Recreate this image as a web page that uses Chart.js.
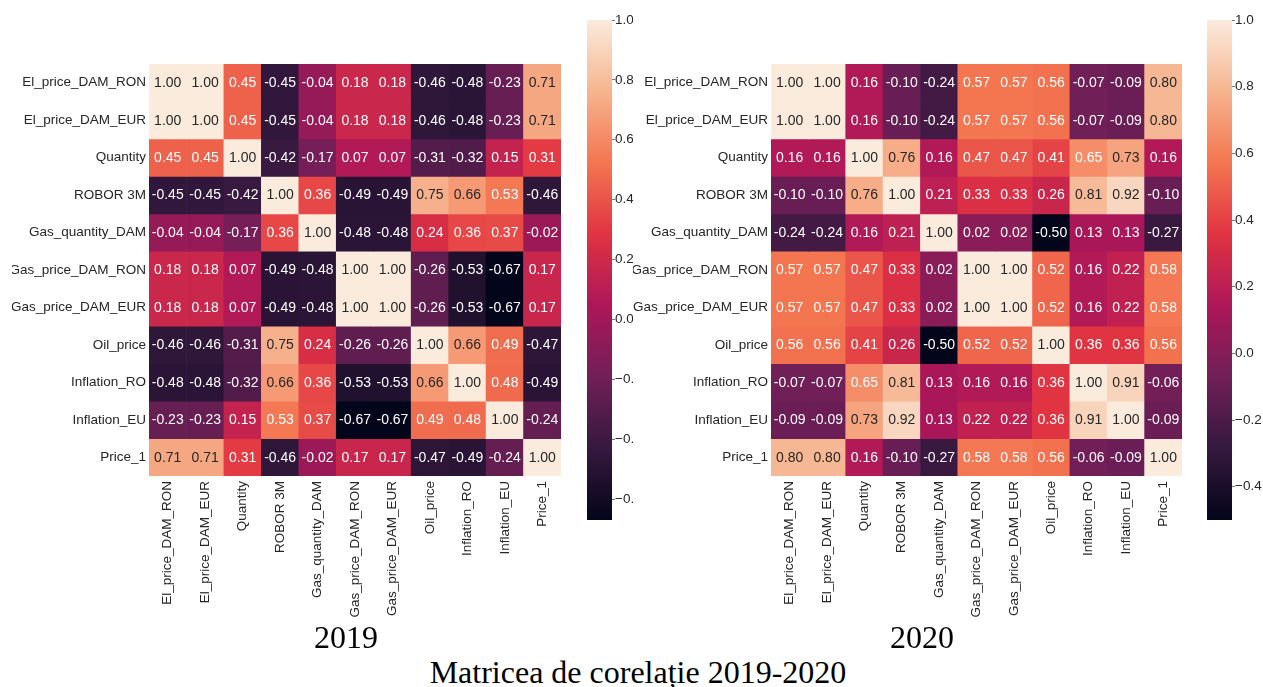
<!DOCTYPE html>
<html>
<head>
<meta charset="utf-8">
<script src="https://cdn.jsdelivr.net/npm/chart.js@4/dist/chart.umd.min.js"></script>
<style>
  html, body { margin: 0; padding: 0; background: #fff; }
  body { position: relative; width: 1263px; height: 687px; overflow: hidden; }
  canvas { position: absolute; top: 0; }
  #panelRight { position: absolute; left: 633px; top: 0; width: 630px; height: 620px; background: #fff; overflow: hidden; }
  .caption { position: absolute; font-family: "Liberation Serif", "Times New Roman", serif; font-size: 32px; line-height: 32px; color: #000; white-space: nowrap; transform: translateX(-50%); }
</style>
</head>
<body>
<canvas id="heat2019" width="578" height="620" style="left:12px"></canvas>
<canvas id="cbar2019" width="100" height="620" style="left:560px"></canvas>
<div id="panelRight">
  <canvas id="heat2020" width="578" height="620" style="left:0px"></canvas>
  <canvas id="cbar2020" width="100" height="620" style="left:547px"></canvas>
</div>
<div class="caption" style="left:346px; top:621px">2019</div>
<div class="caption" style="left:922px; top:621px">2020</div>
<div class="caption" style="left:638px; top:656px">Matricea de corelație 2019-2020</div>

<script>
// Variable names (rows and columns of both matrices)
const variables = [
  'El_price_DAM_RON', 'El_price_DAM_EUR', 'Quantity', 'ROBOR 3M', 'Gas_quantity_DAM',
  'Gas_price_DAM_RON', 'Gas_price_DAM_EUR', 'Oil_price', 'Inflation_RO', 'Inflation_EU', 'Price_1'
];

// Pearson correlations, 2019
const corr2019 = [
  [ 1.00,  1.00,  0.45, -0.45, -0.04,  0.18,  0.18, -0.46, -0.48, -0.23,  0.71],
  [ 1.00,  1.00,  0.45, -0.45, -0.04,  0.18,  0.18, -0.46, -0.48, -0.23,  0.71],
  [ 0.45,  0.45,  1.00, -0.42, -0.17,  0.07,  0.07, -0.31, -0.32,  0.15,  0.31],
  [-0.45, -0.45, -0.42,  1.00,  0.36, -0.49, -0.49,  0.75,  0.66,  0.53, -0.46],
  [-0.04, -0.04, -0.17,  0.36,  1.00, -0.48, -0.48,  0.24,  0.36,  0.37, -0.02],
  [ 0.18,  0.18,  0.07, -0.49, -0.48,  1.00,  1.00, -0.26, -0.53, -0.67,  0.17],
  [ 0.18,  0.18,  0.07, -0.49, -0.48,  1.00,  1.00, -0.26, -0.53, -0.67,  0.17],
  [-0.46, -0.46, -0.31,  0.75,  0.24, -0.26, -0.26,  1.00,  0.66,  0.49, -0.47],
  [-0.48, -0.48, -0.32,  0.66,  0.36, -0.53, -0.53,  0.66,  1.00,  0.48, -0.49],
  [-0.23, -0.23,  0.15,  0.53,  0.37, -0.67, -0.67,  0.49,  0.48,  1.00, -0.24],
  [ 0.71,  0.71,  0.31, -0.46, -0.02,  0.17,  0.17, -0.47, -0.49, -0.24,  1.00]
];

// Pearson correlations, 2020
const corr2020 = [
  [ 1.00,  1.00,  0.16, -0.10, -0.24,  0.57,  0.57,  0.56, -0.07, -0.09,  0.80],
  [ 1.00,  1.00,  0.16, -0.10, -0.24,  0.57,  0.57,  0.56, -0.07, -0.09,  0.80],
  [ 0.16,  0.16,  1.00,  0.76,  0.16,  0.47,  0.47,  0.41,  0.65,  0.73,  0.16],
  [-0.10, -0.10,  0.76,  1.00,  0.21,  0.33,  0.33,  0.26,  0.81,  0.92, -0.10],
  [-0.24, -0.24,  0.16,  0.21,  1.00,  0.02,  0.02, -0.50,  0.13,  0.13, -0.27],
  [ 0.57,  0.57,  0.47,  0.33,  0.02,  1.00,  1.00,  0.52,  0.16,  0.22,  0.58],
  [ 0.57,  0.57,  0.47,  0.33,  0.02,  1.00,  1.00,  0.52,  0.16,  0.22,  0.58],
  [ 0.56,  0.56,  0.41,  0.26, -0.50,  0.52,  0.52,  1.00,  0.36,  0.36,  0.56],
  [-0.07, -0.07,  0.65,  0.81,  0.13,  0.16,  0.16,  0.36,  1.00,  0.91, -0.06],
  [-0.09, -0.09,  0.73,  0.92,  0.13,  0.22,  0.22,  0.36,  0.91,  1.00, -0.09],
  [ 0.80,  0.80,  0.16, -0.10, -0.27,  0.58,  0.58,  0.56, -0.06, -0.09,  1.00]
];

// Colour bar tick values
const cbarTicks2019 = [1.0, 0.8, 0.6, 0.4, 0.2, 0.0, -0.2, -0.4, -0.6];
const cbarTicks2020 = [1.0, 0.8, 0.6, 0.4, 0.2, 0.0, -0.2, -0.4];

// "rocket" colour map stops
const rocketStops = [
  [0.0000, '#03051a'],
  [0.1429, '#35193e'],
  [0.2857, '#701f57'],
  [0.4286, '#ad1759'],
  [0.5714, '#e13342'],
  [0.7143, '#f37651'],
  [0.8571, '#f6b48f'],
  [1.0000, '#faebdd']
];

const FONT = '"Liberation Sans", Arial, sans-serif';
const TEXT_DARK = '#262626';

function hexToRgb(h) {
  return [parseInt(h.slice(1, 3), 16), parseInt(h.slice(3, 5), 16), parseInt(h.slice(5, 7), 16)];
}
function rocketRgb(t) {
  t = Math.max(0, Math.min(1, t));
  for (let i = 1; i < rocketStops.length; i++) {
    const [t1, c1] = rocketStops[i];
    const [t0, c0] = rocketStops[i - 1];
    if (t <= t1) {
      const f = (t - t0) / (t1 - t0);
      const a = hexToRgb(c0), b = hexToRgb(c1);
      return a.map((v, k) => Math.round(v + (b[k] - v) * f));
    }
  }
  return hexToRgb(rocketStops[rocketStops.length - 1][1]);
}
function luminance(rgb) {
  const lin = rgb.map(v => { v /= 255; return v <= 0.03928 ? v / 12.92 : Math.pow((v + 0.055) / 1.055, 2.4); });
  return 0.2126 * lin[0] + 0.7152 * lin[1] + 0.0722 * lin[2];
}
function matrixMin(m) { return Math.min(...m.map(r => Math.min(...r))); }
function matrixMax(m) { return Math.max(...m.map(r => Math.max(...r))); }

// Writes the coefficient in the middle of every cell
const cellLabels = {
  id: 'cellLabels',
  afterDatasetsDraw(chart) {
    const { ctx } = chart;
    const { matrix, vmin, vmax } = chart.options.plugins.cellLabels;
    ctx.save();
    ctx.font = '14px ' + FONT;
    ctx.textAlign = 'center';
    ctx.textBaseline = 'middle';
    chart.data.datasets.forEach((ds, r) => {
      chart.getDatasetMeta(r).data.forEach((bar, c) => {
        const v = matrix[r][c];
        const rgb = rocketRgb((v - vmin) / (vmax - vmin));
        ctx.fillStyle = luminance(rgb) > 0.408 ? TEXT_DARK : '#ffffff';
        ctx.fillText(v.toFixed(2), bar.x, (bar.y + bar.base) / 2 + 0.5);
      });
    });
    ctx.restore();
  }
};

function heatmap(id, matrix, axisWidth) {
  const vmin = matrixMin(matrix), vmax = matrixMax(matrix);
  return new Chart(document.getElementById(id), {
    type: 'bar',
    data: {
      labels: variables,
      datasets: matrix.map((row, r) => ({
        label: variables[r],
        data: row.map(() => [r, r + 1]),
        backgroundColor: row.map(v => 'rgb(' + rocketRgb((v - vmin) / (vmax - vmin)).join(',') + ')'),
        borderWidth: 0,
        barPercentage: 1,
        categoryPercentage: 1,
        grouped: false
      }))
    },
    options: {
      responsive: false,
      animation: false,
      events: [],
      layout: { padding: { top: 64, right: 29, left: 0, bottom: 0 } },
      plugins: {
        legend: { display: false },
        tooltip: { enabled: false },
        cellLabels: { matrix, vmin, vmax }
      },
      scales: {
        x: {
          type: 'category',
          grid: { display: false, drawTicks: false },
          border: { display: false },
          ticks: { autoSkip: false, maxRotation: 90, minRotation: 90, padding: 5, color: TEXT_DARK, font: { family: FONT, size: 13.5 } },
          afterFit(scale) { scale.height = 144; }
        },
        y: {
          type: 'linear',
          min: 0,
          max: variables.length,
          reverse: true,
          grid: { display: false, drawTicks: false },
          border: { display: false },
          afterBuildTicks(scale) { scale.ticks = variables.map((_, i) => ({ value: i + 0.5 })); },
          ticks: { autoSkip: false, padding: 3, color: TEXT_DARK, font: { family: FONT, size: 13.5 }, callback: (v, i) => variables[i] },
          afterFit(scale) { scale.width = axisWidth; }
        }
      }
    },
    plugins: [cellLabels]
  });
}

function colorbar(id, matrix, tickValues) {
  const vmin = matrixMin(matrix), vmax = matrixMax(matrix);
  return new Chart(document.getElementById(id), {
    type: 'bar',
    data: {
      labels: [''],
      datasets: [{
        data: [[vmin, vmax]],
        borderWidth: 0,
        barPercentage: 1,
        categoryPercentage: 1,
        backgroundColor(context) {
          const chart = context.chart;
          const y = chart.scales && chart.scales.y;
          if (!chart.chartArea || !y) return '#701f57';
          const g = chart.ctx.createLinearGradient(0, y.getPixelForValue(vmin), 0, y.getPixelForValue(vmax));
          rocketStops.forEach(([t, c]) => g.addColorStop(t, c));
          return g;
        }
      }]
    },
    options: {
      responsive: false,
      animation: false,
      events: [],
      layout: { padding: { top: 20, bottom: 100, left: 27, right: 0 } },
      plugins: { legend: { display: false }, tooltip: { enabled: false } },
      scales: {
        x: { display: false },
        y: {
          type: 'linear',
          position: 'right',
          min: vmin,
          max: vmax,
          grid: { display: true, drawOnChartArea: false, drawTicks: true, tickLength: 3, color: '#555555', lineWidth: 0.8 },
          border: { display: false },
          afterBuildTicks(scale) { scale.ticks = tickValues.map(v => ({ value: v })); },
          ticks: {
            padding: 0,
            color: TEXT_DARK,
            font: { family: FONT, size: 13.5 },
            callback: v => (v < -1e-9 ? '\u2212' : '') + Math.abs(v).toFixed(1)
          },
          afterFit(scale) { scale.width = 48; }
        }
      }
    }
  });
}

heatmap('heat2019', corr2019, 137);
colorbar('cbar2019', corr2019, cbarTicks2019);
heatmap('heat2020', corr2020, 138);
colorbar('cbar2020', corr2020, cbarTicks2020);
</script>
</body>
</html>
